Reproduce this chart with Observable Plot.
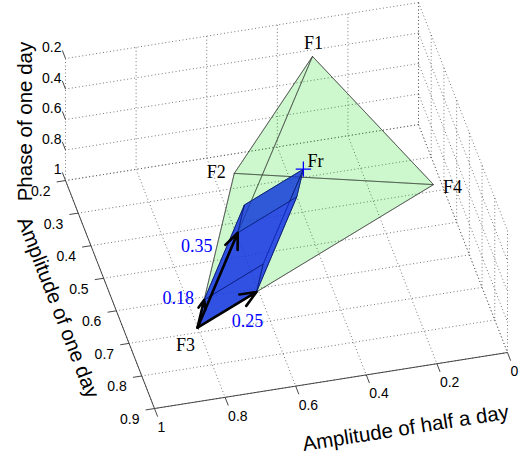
<!DOCTYPE html>
<html><head><meta charset="utf-8">
<script src="https://cdn.jsdelivr.net/npm/d3@7"></script>
<script src="https://cdn.jsdelivr.net/npm/@observablehq/plot@0.6"></script>
<style>body{margin:0;background:#fff}</style>
</head><body><div id="chart"></div>
<script>
// ---------- data ----------
const vertexNames = ["F1", "F2", "F3", "F4"];
const ampHalfDay  = [0.323, 0.590, 0.809, 0.094];   // x: Amplitude of half a day
const ampOneDay   = [0.263, 0.389, 0.708, 0.579];   // y: Amplitude of one day
const phaseOneDay = [0.30, 0.70, 0.95, 0.55];       // z: Phase of one day
const baseVertex = "F3";
const weightTargets = ["F1", "F2", "F4"];
const weights = [0.35, 0.18, 0.25];
const weightLabels = ["0.35", "0.18", "0.25"];
const resultName = "Fr";
const xTicks = [0, 0.2, 0.4, 0.6, 0.8, 1];
const yTicks = [0.2, 0.3, 0.4, 0.5, 0.6, 0.7, 0.8, 0.9];
const zTicks = [0.2, 0.4, 0.6, 0.8, 1];
const xTitle = "Amplitude of half a day";
const yTitle = "Amplitude of one day";
const zTitle = "Phase of one day";

// ---------- view (orthographic 3-D projection) ----------
const W = 522, H = 455;
const XD = [0, 1], YD = [0.2, 0.9], ZD = [0.2, 1];
const EX = [-353, 56], EY = [127.1, 325.7], EZ = [0, 152.5], ORIGIN = [392.6, -93.6];
const DEPTH = [67.7, 393.4, -126.2];
const proj = p => ({
  px: ORIGIN[0] + EX[0] * p[0] + EY[0] * p[1] + EZ[0] * p[2],
  py: ORIGIN[1] + EX[1] * p[0] + EY[1] * p[1] + EZ[1] * p[2]
});
const depth = p => DEPTH[0] * p[0] + DEPTH[1] * p[1] + DEPTH[2] * p[2];
const add = (a, b) => a.map((v, i) => v + b[i]);
const sub = (a, b) => a.map((v, i) => v - b[i]);
const mul = (a, k) => a.map(v => v * k);
const seg = (a, b) => { const A = proj(a), B = proj(b); return {x1: A.px, y1: A.py, x2: B.px, y2: B.py}; };

const V = {};
vertexNames.forEach((n, i) => V[n] = [ampHalfDay[i], ampOneDay[i], phaseOneDay[i]]);
const base = V[baseVertex];
const vecs = weightTargets.map((t, i) => mul(sub(V[t], base), weights[i]));
const tips = vecs.map(v => add(base, v));
const Fr = add(base, add(vecs[0], add(vecs[1], vecs[2])));

// grid on back walls
const grid = [];
for (const x of xTicks) { grid.push(seg([x, YD[0], ZD[0]], [x, YD[0], ZD[1]])); grid.push(seg([x, YD[0], ZD[1]], [x, YD[1], ZD[1]])); }
for (const z of zTicks) { grid.push(seg([XD[0], YD[0], z], [XD[1], YD[0], z])); grid.push(seg([XD[0], YD[0], z], [XD[0], YD[1], z])); }
for (const y of yTicks) { grid.push(seg([XD[0], y, ZD[1]], [XD[1], y, ZD[1]])); grid.push(seg([XD[0], y, ZD[0]], [XD[0], y, ZD[1]])); }

const axes = [seg([XD[0], YD[1], ZD[1]], [XD[1], YD[1], ZD[1]]), seg([XD[1], YD[0], ZD[1]], [XD[1], YD[1], ZD[1]])];
const ticks = [
  ...xTicks.map(x => seg([x, YD[1], ZD[1]], [x, YD[1] + 0.025, ZD[1]])),
  ...yTicks.map(y => seg([XD[1], y, ZD[1]], [XD[1] + 0.025, y, ZD[1]])),
  ...zTicks.map(z => seg([XD[1], YD[0], z], [XD[1], YD[0] - 0.025, z]))
];
const xTickLabels = xTicks.map(x => ({...proj([x, YD[1], ZD[1]]), t: String(x)}));
const yTickLabels = yTicks.map(y => ({...proj([XD[1], y, ZD[1]]), t: String(y)}));
const zTickLabels = zTicks.map(z => ({...proj([XD[1], YD[0], z]), t: String(z)}));

// faces
const faces = [];
const tetra = [["F1", "F2", "F3"], ["F1", "F2", "F4"], ["F1", "F3", "F4"], ["F2", "F3", "F4"]];
for (const f of tetra) faces.push({kind: "tetra", pts: f.map(n => V[n])});
const corner = (i, j, k) => add(base, add(mul(vecs[0], i), add(mul(vecs[1], j), mul(vecs[2], k))));
const boxFaces = [
  [[0,0,0],[1,0,0],[1,1,0],[0,1,0]], [[0,0,1],[1,0,1],[1,1,1],[0,1,1]],
  [[0,0,0],[1,0,0],[1,0,1],[0,0,1]], [[0,1,0],[1,1,0],[1,1,1],[0,1,1]],
  [[0,0,0],[0,1,0],[0,1,1],[0,0,1]], [[1,0,0],[1,1,0],[1,1,1],[1,0,1]]
];
for (const f of boxFaces) faces.push({kind: "box", pts: f.map(c => corner(...c))});
faces.forEach(f => f.d = d3.mean(f.pts, depth));
faces.sort((a, b) => a.d - b.d);

const faceMarks = faces.map(f => {
  const ring = f.pts.map(proj); ring.push(ring[0]);
  return f.kind === "tetra"
    ? Plot.line(ring, {x: "px", y: "py", fill: "rgb(0,215,0)", fillOpacity: 0.1, stroke: "#3a3a3a", strokeWidth: 0.7, strokeOpacity: 0.8})
    : Plot.line(ring, {x: "px", y: "py", fill: "rgb(20,50,230)", fillOpacity: 0.6, stroke: "#0a1a6a", strokeWidth: 0.7});
});

const arrows = tips.map(t => seg(base, t));
const vLabels = vertexNames.map(n => ({...proj(V[n]), t: n}));
const vOff = {F1: [1, -13], F2: [-18, -1], F3: [-12, 18], F4: [19, 3]};
vLabels.forEach(l => { l.px += vOff[l.t][0]; l.py += vOff[l.t][1]; });
const wOff = [[-41, 14], [-26, -2], [-9, 29]];
const wLabels = tips.map((t, i) => { const p = proj(t); return {px: p.px + wOff[i][0], py: p.py + wOff[i][1], t: weightLabels[i]}; });
const frP = proj(Fr);
const frLabel = [{px: frP.px + 12, py: frP.py - 8, t: resultName}];

const xt = proj([0.3, YD[1], ZD[1]]), yt = proj([XD[1], 0.55, ZD[1]]), zt = proj([XD[1], YD[0], 0.6]);
const titles = [
  {px: xt.px + 4, py: xt.py + 59, t: xTitle, r: -9},
  {px: yt.px - 52, py: yt.py + 13, t: yTitle, r: 68.7},
  {px: zt.px - 40, py: zt.py + 2, t: zTitle, r: -90}
];

const chart = Plot.plot({
  width: W, height: H, margin: 0,
  x: {domain: [0, W], range: [0, W], axis: null},
  y: {domain: [0, H], range: [0, H], axis: null},
  style: {background: "white", overflow: "visible"},
  marks: [
    Plot.link(grid, {x1: "x1", y1: "y1", x2: "x2", y2: "y2", stroke: "#555", strokeWidth: 0.8, strokeDasharray: "1,2.5"}),
    Plot.link(axes, {x1: "x1", y1: "y1", x2: "x2", y2: "y2", stroke: "#333", strokeWidth: 0.9}),
    Plot.link(ticks, {x1: "x1", y1: "y1", x2: "x2", y2: "y2", stroke: "#333", strokeWidth: 0.9}),
    Plot.text(xTickLabels.map(d => ({...d, px: d.px + 3, py: d.py + 19})), {x: "px", y: "py", text: "t", textAnchor: "start", fontFamily: "Liberation Sans", fontSize: 14, fill: "black"}),
    Plot.text(yTickLabels.map(d => ({...d, px: d.px - 15, py: d.py + 11})), {x: "px", y: "py", text: "t", textAnchor: "end", fontFamily: "Liberation Sans", fontSize: 14, fill: "black"}),
    Plot.text(zTickLabels.map(d => ({...d, px: d.px - 4, py: d.py - 11})), {x: "px", y: "py", text: "t", textAnchor: "end", fontFamily: "Liberation Sans", fontSize: 14, fill: "black"}),
    ...faceMarks,
    Plot.arrow(arrows, {x1: "x1", y1: "y1", x2: "x2", y2: "y2", stroke: "black", strokeWidth: 2.6, headLength: 10, headAngle: 45}),
    Plot.dot([frP], {x: "px", y: "py", symbol: "plus", r: 5, stroke: "blue", strokeWidth: 1.3}),
    Plot.text(vLabels, {x: "px", y: "py", text: "t", fontFamily: "Liberation Serif", fontSize: 18, fill: "black"}),
    Plot.text(frLabel, {x: "px", y: "py", text: "t", fontFamily: "Liberation Serif", fontSize: 18, fill: "black"}),
    Plot.text(wLabels, {x: "px", y: "py", text: "t", fontFamily: "Liberation Serif", fontSize: 18, fill: "blue"}),
    ...titles.map(t => Plot.text([t], {x: "px", y: "py", text: "t", rotate: t.r, fontFamily: "Liberation Sans", fontSize: 20.5, fill: "black"}))
  ]
});
document.getElementById("chart").appendChild(chart);
</script>
</body></html>
